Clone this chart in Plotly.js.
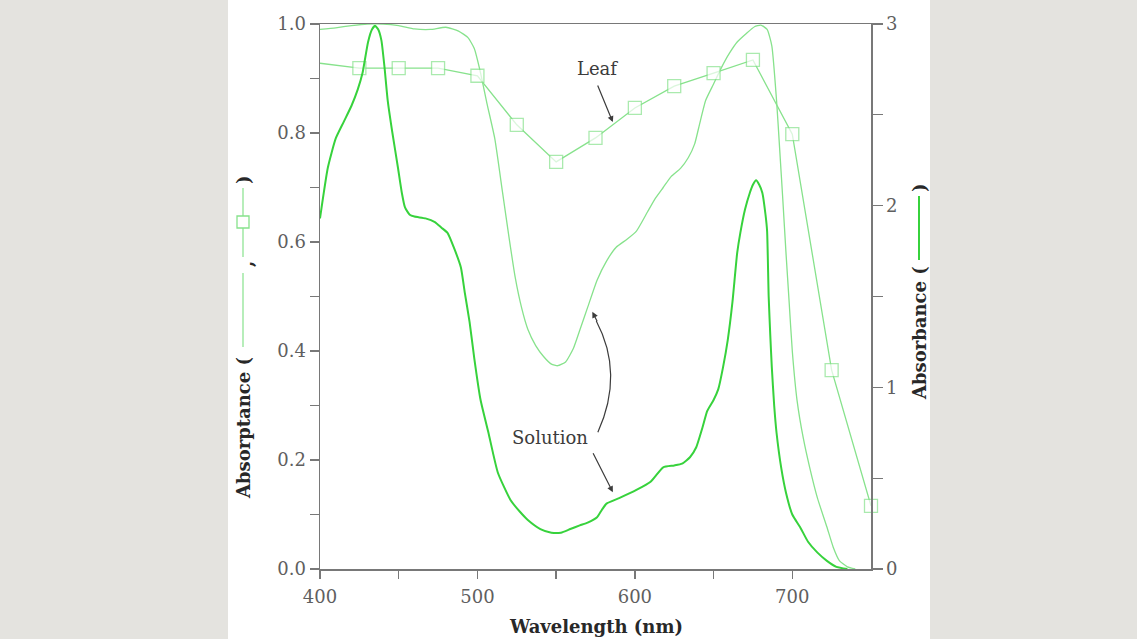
<!DOCTYPE html>
<html>
<head>
<meta charset="utf-8">
<script src="https://cdn.plot.ly/plotly-3.0.1.min.js"></script>
<style>html,body{margin:0;padding:0;background:#e4e3df;}#chart{width:1137px;height:639px;}</style>
</head>
<body>
<div id="chart"></div>
<script>
// ---- Data ----
// Leaf absorptance (left axis), open squares
const leafWavelength = [400, 425, 450, 475, 500, 525, 550, 575, 600, 625, 650, 675, 700, 725, 750];
const leafAbsorptance = [0.928, 0.919, 0.919, 0.919, 0.905, 0.815, 0.747, 0.791, 0.846, 0.886, 0.910, 0.934, 0.798, 0.365, 0.116];

// Solution absorptance (left axis), thin line
const solAbsWavelength = [400, 410, 420, 430, 440, 450, 460, 470, 480, 488, 494, 498, 502, 506, 511, 516, 520, 524, 528, 532, 537, 542, 547, 551, 556, 561, 565, 570, 576, 582, 588, 595, 601, 608, 613, 618, 623, 629, 634, 638, 641, 645, 650, 655, 660, 665, 671, 676, 680, 684, 687, 690, 692, 694, 696, 698, 700, 703, 707, 711, 716, 722, 726, 730, 735, 740];
const solAbsorptance = [0.990, 0.993, 0.997, 1.0, 1.0, 0.997, 0.991, 0.990, 0.994, 0.987, 0.975, 0.955, 0.91, 0.855, 0.79, 0.69, 0.61, 0.535, 0.48, 0.44, 0.41, 0.39, 0.376, 0.373, 0.38, 0.405, 0.438, 0.48, 0.53, 0.565, 0.59, 0.605, 0.62, 0.655, 0.68, 0.70, 0.72, 0.735, 0.755, 0.78, 0.815, 0.86, 0.89, 0.92, 0.946, 0.967, 0.983, 0.995, 0.998, 0.99, 0.96, 0.86, 0.77, 0.677, 0.58, 0.49, 0.40, 0.31, 0.24, 0.187, 0.13, 0.077, 0.04, 0.015, 0.004, 0.0];

// Solution absorbance (right axis), bold line
const solAbWavelength = [400, 405, 410, 415, 420, 424, 427, 430.5, 433, 435, 437, 439, 441, 443, 446, 449.5, 452, 454, 457, 460, 467, 473, 477, 481, 485, 489.5, 492, 495, 498, 502, 507, 513, 521, 527, 532, 540, 547, 553, 559, 565, 570, 576, 579, 582, 590, 601, 610, 618, 625, 630, 635, 639, 643, 646, 650, 653, 656, 659, 662, 665, 667, 670, 673, 675, 677, 679, 681, 683, 684, 685, 686, 687, 688.5, 690, 693, 696, 700, 705, 710, 716, 722, 728, 735];
const solAbsorbance = [1.93, 2.21, 2.37, 2.46, 2.55, 2.64, 2.73, 2.90, 2.97, 2.99, 2.97, 2.91, 2.76, 2.58, 2.40, 2.21, 2.07, 1.99, 1.95, 1.94, 1.93, 1.91, 1.88, 1.85, 1.77, 1.66, 1.52, 1.36, 1.16, 0.93, 0.75, 0.53, 0.38, 0.315, 0.27, 0.22, 0.20, 0.20, 0.22, 0.24, 0.255, 0.285, 0.325, 0.36, 0.39, 0.435, 0.48, 0.56, 0.57, 0.58, 0.615, 0.67, 0.78, 0.87, 0.93, 0.99, 1.11, 1.26, 1.47, 1.74, 1.85, 1.98, 2.07, 2.115, 2.14, 2.115, 2.07, 1.95, 1.86, 1.50, 1.29, 1.11, 0.90, 0.75, 0.555, 0.42, 0.30, 0.23, 0.15, 0.09, 0.045, 0.012, 0.0];

// Tick labels
const xTickVals = [400, 450, 500, 550, 600, 650, 700];
const xTickText = ['400', '', '500', '', '600', '', '700'];
const yTickVals = [0, 0.1, 0.2, 0.3, 0.4, 0.5, 0.6, 0.7, 0.8, 0.9, 1.0];
const yTickText = ['0.0', '', '0.2', '', '0.4', '', '0.6', '', '0.8', '', '1.0'];
const y2TickVals = [0, 0.5, 1, 1.5, 2, 2.5, 3];
const y2TickText = ['0', '', '1', '', '2', '', '3'];

// ---- Styles ----
const FONT = 'DejaVu Serif';
const LIGHT = 'rgb(135,226,140)';
const BOLD = 'rgb(55,210,60)';
const AXIS = 'rgb(120,120,120)';
const TICKFONT = {family: FONT, size: 18, color: 'rgb(95,95,95)'};
const TEXTCOL = 'rgb(60,60,60)';
const TITLEFONT = {family: FONT, size: 18, color: 'rgb(40,40,40)'};

const traces = [
  {
    x: solAbsWavelength, y: solAbsorptance, type: 'scatter', mode: 'lines',
    line: {color: LIGHT, width: 1.3, shape: 'spline', smoothing: 0.5},
    xaxis: 'x', yaxis: 'y', hoverinfo: 'skip', cliponaxis: false
  },
  {
    x: solAbWavelength, y: solAbsorbance, type: 'scatter', mode: 'lines',
    line: {color: BOLD, width: 2, shape: 'spline', smoothing: 0.5},
    xaxis: 'x', yaxis: 'y2', hoverinfo: 'skip', cliponaxis: false
  },
  {
    x: leafWavelength, y: leafAbsorptance, type: 'scatter', mode: 'lines+markers',
    line: {color: LIGHT, width: 1.3},
    marker: {symbol: 'square', size: leafWavelength.map((w, i) => i === 0 ? 0 : 13),
             color: 'white', line: {color: LIGHT, width: 1.3}},
    xaxis: 'x', yaxis: 'y', hoverinfo: 'skip', cliponaxis: false
  }
];

// helper: pixel -> paper
const PL = 320, PW = 551, PB = 569, PH = 545;
const px = v => (v - PL) / PW;
const py = v => (PB - v) / PH;

const annotations = [
  {x: 576, y: 0.919, xref: 'x', yref: 'y', text: 'Leaf', showarrow: false,
   font: {family: FONT, size: 18, color: TEXTCOL}, xanchor: 'center', yanchor: 'middle'},
  {x: 586, y: 0.82, ax: 576, ay: 0.89, xref: 'x', yref: 'y', axref: 'x', ayref: 'y',
   text: '', showarrow: true, arrowhead: 2, arrowsize: 1, arrowwidth: 1.2, arrowcolor: TEXTCOL},
  {x: 546, y: 0.242, xref: 'x', yref: 'y', text: 'Solution', showarrow: false,
   font: {family: FONT, size: 18, color: TEXTCOL}, xanchor: 'center', yanchor: 'middle'},
  {x: 586, y: 0.141, ax: 573, ay: 0.215, xref: 'x', yref: 'y', axref: 'x', ayref: 'y',
   text: '', showarrow: true, arrowhead: 2, arrowsize: 1, arrowwidth: 1.2, arrowcolor: TEXTCOL},
  {x: 573, y: 0.472, ax: 576.5, ay: 0.452, xref: 'x', yref: 'y', axref: 'x', ayref: 'y',
   text: '', showarrow: true, arrowhead: 2, arrowsize: 1, arrowwidth: 1.2, arrowcolor: TEXTCOL},
  // x-axis title
  {x: px(596), y: py(626), xref: 'paper', yref: 'paper', text: '<b>Wavelength (nm)</b>', showarrow: false,
   font: TITLEFONT, xanchor: 'center', yanchor: 'middle'},
  // left title pieces
  {x: px(243), y: py(428), xref: 'paper', yref: 'paper', text: '<b>Absorptance (</b>', textangle: -90, showarrow: false,
   font: TITLEFONT, xanchor: 'center', yanchor: 'middle'},
  {x: px(246), y: py(264), xref: 'paper', yref: 'paper', text: '<b>,</b>', textangle: -90, showarrow: false,
   font: TITLEFONT, xanchor: 'center', yanchor: 'middle'},
  {x: px(243), y: py(180), xref: 'paper', yref: 'paper', text: '<b>)</b>', textangle: -90, showarrow: false,
   font: TITLEFONT, xanchor: 'center', yanchor: 'middle'},
  // right title pieces
  {x: px(919), y: py(333), xref: 'paper', yref: 'paper', text: '<b>Absorbance (</b>', textangle: -90, showarrow: false,
   font: TITLEFONT, xanchor: 'center', yanchor: 'middle'},
  {x: px(919), y: py(188), xref: 'paper', yref: 'paper', text: '<b>)</b>', textangle: -90, showarrow: false,
   font: TITLEFONT, xanchor: 'center', yanchor: 'middle'}
];

const shapes = [
  // white centre panel
  {type: 'rect', xref: 'paper', yref: 'paper', x0: px(228), x1: px(930), y0: py(650), y1: py(-10),
   fillcolor: 'white', line: {width: 0}, layer: 'below'},
  // curved arrow body
  {type: 'path', xref: 'x', yref: 'y', path: 'M 576.5,0.251 Q 593.3,0.358 575.5,0.455',
   line: {color: TEXTCOL, width: 1.2}, fillcolor: 'rgba(0,0,0,0)'},
  // left title legend: thin line
  {type: 'line', xref: 'paper', yref: 'paper', x0: px(243), x1: px(243), y0: py(347), y1: py(273),
   line: {color: LIGHT, width: 1.2}},
  // left title legend: leaf line with square
  {type: 'line', xref: 'paper', yref: 'paper', x0: px(243), x1: px(243), y0: py(257), y1: py(188),
   line: {color: LIGHT, width: 1.2}},
  {type: 'rect', xref: 'paper', yref: 'paper', xsizemode: 'pixel', ysizemode: 'pixel',
   xanchor: px(243), yanchor: py(222), x0: -6, x1: 6, y0: -6, y1: 6,
   fillcolor: 'white', line: {color: LIGHT, width: 1.3}},
  // right title legend: bold line
  {type: 'line', xref: 'paper', yref: 'paper', x0: px(919), x1: px(919), y0: py(260), y1: py(196),
   line: {color: BOLD, width: 2}}
];

const layout = {
  width: 1137, height: 639,
  margin: {l: 320, r: 266, t: 24, b: 70, pad: 0},
  paper_bgcolor: '#e4e3df',
  plot_bgcolor: 'white',
  showlegend: false,
  xaxis: {
    range: [400, 750], tickvals: xTickVals, ticktext: xTickText,
    ticks: 'outside', ticklen: 8, tickwidth: 1.3, tickcolor: AXIS,
    showline: true, linecolor: AXIS, linewidth: 1.5, mirror: true,
    showgrid: false, zeroline: false, tickfont: TICKFONT, ticklabelstandoff: 3
  },
  yaxis: {
    range: [0, 1], tickvals: yTickVals, ticktext: yTickText,
    ticks: 'outside', ticklen: 9, tickwidth: 1.3, tickcolor: AXIS,
    showline: true, linecolor: AXIS, linewidth: 1.5,
    showgrid: false, zeroline: false, tickfont: TICKFONT
  },
  yaxis2: {
    range: [0, 3], tickvals: y2TickVals, ticktext: y2TickText, overlaying: 'y', side: 'right',
    ticks: 'outside', ticklen: 10, tickwidth: 1.3, tickcolor: AXIS,
    showline: true, linecolor: AXIS, linewidth: 1.5,
    showgrid: false, zeroline: false, tickfont: TICKFONT
  },
  annotations: annotations,
  shapes: shapes
};

Plotly.newPlot('chart', traces, layout, {staticPlot: true, displayModeBar: false});
</script>
</body>
</html>
